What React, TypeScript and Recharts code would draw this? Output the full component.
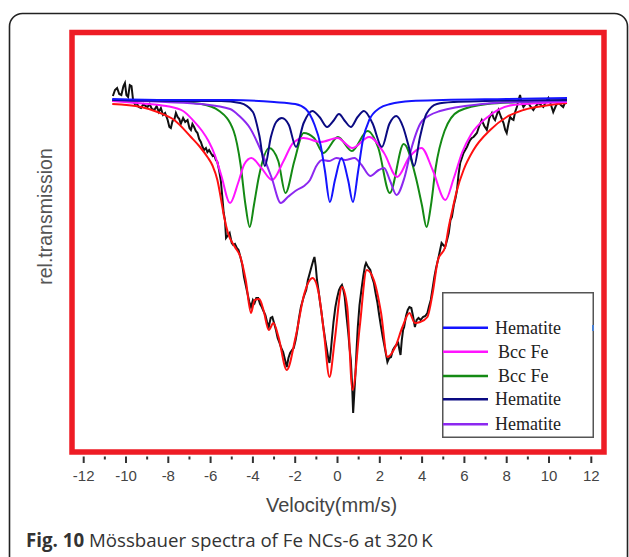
import { LineChart, Line, XAxis, YAxis, Legend, ReferenceArea } from "recharts";

// velocity ticks (mm/s)
const velTicks = [-12, -11, -10, -9, -8, -7, -6, -5, -4, -3, -2, -1, 0, 1, 2, 3, 4, 5, 6, 7, 8, 9, 10, 11, 12];

// measured spectrum (black)
const expVel = [
  -10.62, -10.52, -10.42, -10.32, -10.22, -10.12, -10.05, -9.98, -9.9, -9.82, -9.74, -9.66, -9.58, -9.5, -9.4,
  -9.29, -9.18, -9.08, -8.98, -8.88, -8.78, -8.66, -8.55, -8.45, -8.35, -8.25, -8.15, -8.03, -7.95, -7.88,
  -7.8, -7.72, -7.64, -7.56, -7.48, -7.41, -7.3, -7.2, -7.09, -7.0, -6.93, -6.86, -6.78, -6.7, -6.62,
  -6.54, -6.46, -6.38, -6.31, -6.22, -6.15, -6.07, -5.99, -5.9, -5.83, -5.75, -5.68, -5.6, -5.52, -5.45,
  -5.38, -5.32, -5.27, -5.2, -5.1, -5.0, -4.93, -4.85, -4.76, -4.68, -4.59, -4.5, -4.42, -4.34, -4.26,
  -4.17, -4.09, -4.0, -3.92, -3.84, -3.75, -3.66, -3.58, -3.5, -3.41, -3.33, -3.25, -3.16, -3.08, -3.0,
  -2.91, -2.83, -2.74, -2.66, -2.57, -2.48, -2.4, -2.32, -2.24, -2.15, -2.07, -1.98, -1.9, -1.82, -1.73,
  -1.6, -1.48, -1.4, -1.31, -1.22, -1.14, -1.09, -1.03, -0.97, -0.9, -0.84, -0.76, -0.67, -0.58, -0.5,
  -0.44, -0.38, -0.32, -0.27, -0.19, -0.1, -0.02, 0.07, 0.14, 0.21, 0.28, 0.34, 0.42, 0.51, 0.57,
  0.63, 0.69, 0.74, 0.79, 0.85, 0.9, 0.96, 1.04, 1.13, 1.22, 1.3, 1.35, 1.42, 1.55, 1.63,
  1.72, 1.8, 1.89, 1.97, 2.06, 2.14, 2.23, 2.3, 2.36, 2.44, 2.53, 2.62, 2.7, 2.78, 2.87,
  2.93, 2.98, 3.04, 3.1, 3.15, 3.24, 3.32, 3.4, 3.49, 3.57, 3.66, 3.74, 3.83, 3.93, 4.04,
  4.15, 4.25, 4.33, 4.41, 4.5, 4.58, 4.66, 4.75, 4.83, 4.92, 5.0, 5.09, 5.18, 5.26, 5.34,
  5.41, 5.5, 5.58, 5.65, 5.72, 5.8, 5.88, 5.96, 6.04, 6.12, 6.2, 6.27, 6.35, 6.43, 6.51,
  6.59, 6.7, 6.82, 6.94, 7.06, 7.18, 7.3, 7.38, 7.45, 7.53, 7.61, 7.73, 7.85, 7.93, 8.0,
  8.08, 8.16, 8.24, 8.32, 8.4, 8.48, 8.56, 8.63, 8.71, 8.79, 8.9, 9.02, 9.14, 9.26, 9.38,
  9.5, 9.62, 9.73, 9.85, 9.97, 10.08, 10.2, 10.32, 10.44, 10.56, 10.67, 10.75, 10.83,
];
const expTrans = [
  1.004, 1.010, 1.012, 1.006, 1.005, 1.014, 1.017, 1.005, 1.003, 1.015, 1.014, 0.999, 0.996, 0.997, 0.993,
  0.992, 0.996, 0.994, 0.993, 0.996, 0.991, 0.990, 0.994, 0.988, 0.992, 0.985, 0.987, 0.980, 0.973, 0.972,
  0.979, 0.980, 0.987, 0.983, 0.981, 0.976, 0.982, 0.978, 0.980, 0.972, 0.970, 0.976, 0.973, 0.969, 0.967,
  0.961, 0.958, 0.953, 0.950, 0.952, 0.948, 0.950, 0.947, 0.944, 0.945, 0.940, 0.938, 0.930, 0.920, 0.904,
  0.887, 0.880, 0.862, 0.864, 0.867, 0.857, 0.855, 0.856, 0.852, 0.850, 0.843, 0.835, 0.823, 0.815, 0.807,
  0.798, 0.793, 0.800, 0.797, 0.802, 0.802, 0.796, 0.793, 0.789, 0.785, 0.778, 0.773, 0.782, 0.783, 0.777,
  0.770, 0.762, 0.757, 0.752, 0.748, 0.740, 0.733, 0.742, 0.747, 0.750, 0.752, 0.760, 0.770, 0.782, 0.793,
  0.803, 0.810, 0.820, 0.827, 0.834, 0.840, 0.843, 0.834, 0.820, 0.810, 0.800, 0.788, 0.773, 0.760, 0.750,
  0.742, 0.737, 0.748, 0.760, 0.778, 0.793, 0.802, 0.810, 0.813, 0.815, 0.810, 0.803, 0.785, 0.767, 0.752,
  0.740, 0.715, 0.687, 0.705, 0.727, 0.750, 0.773, 0.795, 0.810, 0.824, 0.834, 0.837, 0.834, 0.830, 0.823,
  0.817, 0.807, 0.797, 0.785, 0.773, 0.763, 0.753, 0.745, 0.738, 0.742, 0.743, 0.750, 0.753, 0.755, 0.757,
  0.750, 0.745, 0.760, 0.770, 0.773, 0.784, 0.790, 0.793, 0.792, 0.784, 0.773, 0.780, 0.782, 0.780, 0.783,
  0.784, 0.787, 0.794, 0.800, 0.812, 0.823, 0.832, 0.840, 0.848, 0.857, 0.855, 0.853, 0.860, 0.867, 0.880,
  0.883, 0.895, 0.902, 0.910, 0.925, 0.937, 0.942, 0.947, 0.950, 0.953, 0.957, 0.960, 0.962, 0.963, 0.965,
  0.967, 0.974, 0.980, 0.974, 0.970, 0.982, 0.987, 0.982, 0.980, 0.985, 0.990, 0.983, 0.977, 0.970, 0.967,
  0.976, 0.983, 0.981, 0.980, 0.988, 0.993, 1.000, 1.005, 0.997, 0.993, 0.996, 0.997, 0.993, 0.990, 0.994,
  0.997, 0.995, 0.993, 0.998, 1.002, 0.996, 0.988, 0.994, 0.998, 0.995, 0.993, 0.997, 0.997,
];

// total fit (red)
const fitVel = [
  -10.65, -9.29, -8.51, -7.72, -6.93, -6.5, -6.15, -5.9, -5.68, -5.5, -5.36, -5.18, -4.85, -4.59, -4.34,
  -4.09, -3.92, -3.7, -3.5, -3.25, -3.03, -2.79, -2.4, -1.98, -1.56, -1.18, -0.89, -0.64, -0.38, -0.13,
  0.21, 0.46, 0.71, 1.05, 1.38, 1.72, 2.06, 2.36, 2.73, 3.07, 3.4, 3.66, 3.91, 4.25, 4.5,
  4.75, 5.09, 5.25, 5.41, 5.65, 5.96, 6.43, 7.22, 8.0, 8.79, 10.05, 10.85,
];
const fitTrans = [
  0.996, 0.993, 0.988, 0.980, 0.963, 0.953, 0.943, 0.934, 0.920, 0.900, 0.883, 0.867, 0.853, 0.843, 0.820,
  0.787, 0.800, 0.801, 0.790, 0.770, 0.777, 0.763, 0.730, 0.763, 0.807, 0.822, 0.807, 0.767, 0.723, 0.760,
  0.813, 0.793, 0.710, 0.773, 0.830, 0.820, 0.787, 0.743, 0.753, 0.773, 0.787, 0.777, 0.778, 0.783, 0.807,
  0.840, 0.853, 0.872, 0.888, 0.910, 0.930, 0.950, 0.970, 0.983, 0.990, 0.995, 0.997,
];

// subspectra
const blueVel = [-10.65, -8, -5, -3, -2, -1.5, -1.1, -0.8, -0.6, -0.36, -0.12, 0.19, 0.5, 0.73, 0.97, 1.2, 1.5, 2, 2.5, 3.5, 5, 8, 10.85];
const blueTrans = [1.001, 1.0, 1.0, 0.998, 0.996, 0.991, 0.976, 0.955, 0.93, 0.898, 0.92, 0.942, 0.92, 0.898, 0.928, 0.96, 0.98, 0.992, 0.996, 0.999, 1.0, 1.001, 1.002];

const magentaVel = [-10.65, -9.5, -8.1, -7.3, -6.8, -6.4, -6.1, -5.8, -5.5, -5.08, -4.7, -4.4, -4.07, -3.6, -3.09, -2.55, -2.1, -1.6, -0.8, 0, 0.7, 1.5, 2.2, 2.82, 3.4, 3.97, 4.5, 5.1, 5.5, 5.9, 6.3, 7.1, 8.3, 10.85];
const magentaTrans = [0.999, 0.997, 0.994, 0.989, 0.979, 0.969, 0.959, 0.945, 0.925, 0.897, 0.917, 0.936, 0.942, 0.932, 0.92, 0.939, 0.957, 0.962, 0.958, 0.962, 0.952, 0.963, 0.947, 0.923, 0.943, 0.952, 0.93, 0.9, 0.922, 0.948, 0.965, 0.983, 0.995, 0.998];

const greenVel = [-10.65, -8.1, -6.44, -5.59, -4.91, -4.58, -4.35, -4.15, -3.95, -3.73, -3.23, -2.8, -2.46, -2.04, -1.6, -1.11, -0.67, 0.02, 0.68, 1.42, 1.93, 2.47, 3.13, 3.71, 3.99, 4.21, 4.42, 4.64, 5.06, 5.74, 7.09, 8.78, 10.85];
const greenTrans = [0.999, 0.999, 0.996, 0.989, 0.969, 0.935, 0.895, 0.873, 0.895, 0.922, 0.952, 0.939, 0.907, 0.939, 0.967, 0.962, 0.947, 0.963, 0.949, 0.969, 0.952, 0.907, 0.956, 0.922, 0.895, 0.873, 0.895, 0.932, 0.969, 0.989, 0.996, 0.998, 0.999];

const navyVel = [-10.65, -7, -5.5, -4.6, -4, -3.7, -3.43, -3.15, -2.9, -2.63, -2.3, -1.96, -1.6, -1.19, -0.85, -0.49, -0.2, 0.07, 0.35, 0.63, 0.95, 1.25, 1.65, 2.1, 2.45, 2.78, 3.1, 3.35, 3.62, 3.9, 4.2, 4.7, 5.5, 7, 10.85];
const navyTrans = [1.0, 0.999, 0.999, 0.997, 0.988, 0.965, 0.934, 0.963, 0.978, 0.982, 0.975, 0.953, 0.977, 0.989, 0.983, 0.973, 0.979, 0.986, 0.979, 0.973, 0.983, 0.989, 0.977, 0.953, 0.976, 0.984, 0.973, 0.955, 0.934, 0.963, 0.986, 0.996, 0.998, 0.999, 1.0];

const purpleVel = [-10.65, -8.13, -6.44, -5.08, -4.64, -4.14, -3.61, -3.11, -2.68, -2.35, -1.92, -1.58, -1.3, -1.0, -0.73, -0.39, -0.05, 0.37, 0.8, 1.14, 1.55, 1.95, 2.2, 2.49, 2.79, 3.16, 3.5, 4.0, 4.85, 6.86, 8.55, 10.85];
const purpleTrans = [1.0, 0.998, 0.996, 0.991, 0.984, 0.972, 0.949, 0.922, 0.897, 0.903, 0.91, 0.914, 0.92, 0.934, 0.94, 0.939, 0.942, 0.94, 0.942, 0.935, 0.924, 0.93, 0.932, 0.919, 0.905, 0.922, 0.952, 0.979, 0.989, 0.996, 0.998, 0.999];

// legend entries, in the order of the legend box
const legendNames = ["Hematite", "Bcc Fe", "Bcc Fe", "Hematite", "Hematite"];
const legendColors = ["#1414FF", "#FF14FF", "#148A14", "#0A0A82", "#8C28F0"];

const toPoints = (xs: number[], ys: number[]) => xs.map((x, i) => ({ x, y: ys[i] }));

const expData = toPoints(expVel, expTrans);
const fitData = toPoints(fitVel, fitTrans);
const blueData = toPoints(blueVel, blueTrans);
const magentaData = toPoints(magentaVel, magentaTrans);
const greenData = toPoints(greenVel, greenTrans);
const navyData = toPoints(navyVel, navyTrans);
const purpleData = toPoints(purpleVel, purpleTrans);

const X_MIN = -12.553;
const X_MAX = 12.6;
const Y_MIN = 0.648;
const Y_MAX = 1.0675;

function VelocityTick(props: any) {
  const { x, y, payload } = props;
  const v = payload.value;
  const major = v % 2 === 0;
  return (
    <g>
      <line x1={x} x2={x} y1={y + 4.5} y2={y + (major ? 11 : 7.5)} stroke="#333" strokeWidth={2} />
      {major && (
        <text x={x} y={y + 28.5} textAnchor="middle" fontSize={15} fill="#444" fontFamily="'Liberation Sans', Arial, sans-serif">
          {v}
        </text>
      )}
    </g>
  );
}

function LegendBox() {
  const rows = [35.7, 59.7, 84, 107.3, 132.3];
  return (
    <svg width={152} height={146} style={{ display: "block" }}>
      <rect x={0.75} y={0.75} width={150.5} height={144.5} fill="#fff" stroke="#555" strokeWidth={1.5} />
      {legendNames.map((name, i) => (
        <g key={i}>
          <line x1={1} x2={46} y1={rows[i]} y2={rows[i]} stroke={legendColors[i]} strokeWidth={2.5} />
          <text
            x={name === "Bcc Fe" ? 56 : 53}
            y={rows[i] + 6}
            fontSize={18}
            fill="#222"
            fontFamily="'Liberation Serif', 'Times New Roman', serif"
          >
            {name}
          </text>
        </g>
      ))}
    </svg>
  );
}

export default function App() {
  return (
    <div style={{ position: "absolute", left: 0, top: 0, width: 629, height: 557, background: "#fff", overflow: "hidden" }}>
      <LineChart width={629} height={557} margin={{ top: 32.5, right: 25, bottom: 75, left: 72 }}>
        <XAxis
          type="number"
          dataKey="x"
          domain={[X_MIN, X_MAX]}
          ticks={velTicks}
          interval={0}
          allowDataOverflow
          axisLine={false}
          tickLine={false}
          tickSize={0}
          tickMargin={0}
          height={30}
          tick={<VelocityTick />}
        />
        <YAxis type="number" dataKey="y" domain={[Y_MIN, Y_MAX]} allowDataOverflow hide />
        <ReferenceArea x1={X_MIN} x2={X_MAX} y1={Y_MIN} y2={Y_MAX} fill="none" fillOpacity={0} stroke="#EE1C25" strokeWidth={5.5} ifOverflow="visible" />
        <Line data={expData} dataKey="y" type="linear" stroke="#111" strokeWidth={2} dot={false} activeDot={false} isAnimationActive={false} />
        <Line data={fitData} dataKey="y" type="monotone" stroke="#FF1010" strokeWidth={2} dot={false} activeDot={false} isAnimationActive={false} />
        <Line data={greenData} dataKey="y" type="monotone" stroke={legendColors[2]} strokeWidth={2} dot={false} activeDot={false} isAnimationActive={false} />
        <Line data={magentaData} dataKey="y" type="monotone" stroke={legendColors[1]} strokeWidth={2} dot={false} activeDot={false} isAnimationActive={false} />
        <Line data={purpleData} dataKey="y" type="monotone" stroke={legendColors[4]} strokeWidth={2} dot={false} activeDot={false} isAnimationActive={false} />
        <Line data={navyData} dataKey="y" type="monotone" stroke={legendColors[3]} strokeWidth={2} dot={false} activeDot={false} isAnimationActive={false} />
        <Line data={blueData} dataKey="y" type="monotone" stroke={legendColors[0]} strokeWidth={2} dot={false} activeDot={false} isAnimationActive={false} />
        <Legend
          content={() => <LegendBox />}
          verticalAlign="middle"
          align="center"
          layout="horizontal"
          wrapperStyle={{ left: 442, top: 292, width: 152, height: 146 }}
        />
      </LineChart>
      <svg width={629} height={557} style={{ position: "absolute", left: 0, top: 0, pointerEvents: "none" }}>
        <rect x={9.5} y={13.5} width={618} height={600} rx={13} fill="none" stroke="#222" strokeWidth={1.6} />
        <text
          transform="translate(51.5,216.5) rotate(-90)"
          textAnchor="middle"
          fontSize={19.5}
          fill="#555"
          fontFamily="'Liberation Sans', Arial, sans-serif"
        >
          rel.transmission
        </text>
        <text x={331.5} y={511.7} textAnchor="middle" fontSize={20} fill="#444" fontFamily="'Liberation Sans', Arial, sans-serif">
          Velocity(mm/s)
        </text>
        <text x={26} y={546.7} fontSize={18.7} fill="#333" fontFamily="'Open Sans', sans-serif">
          <tspan fontWeight="bold">Fig. 10</tspan> Mössbauer spectra of Fe NCs-6 at 320{"\u2009"}K
        </text>
        <rect x={592} y={325} width={2} height={6} fill="#4a7fd0" />
      </svg>
    </div>
  );
}
